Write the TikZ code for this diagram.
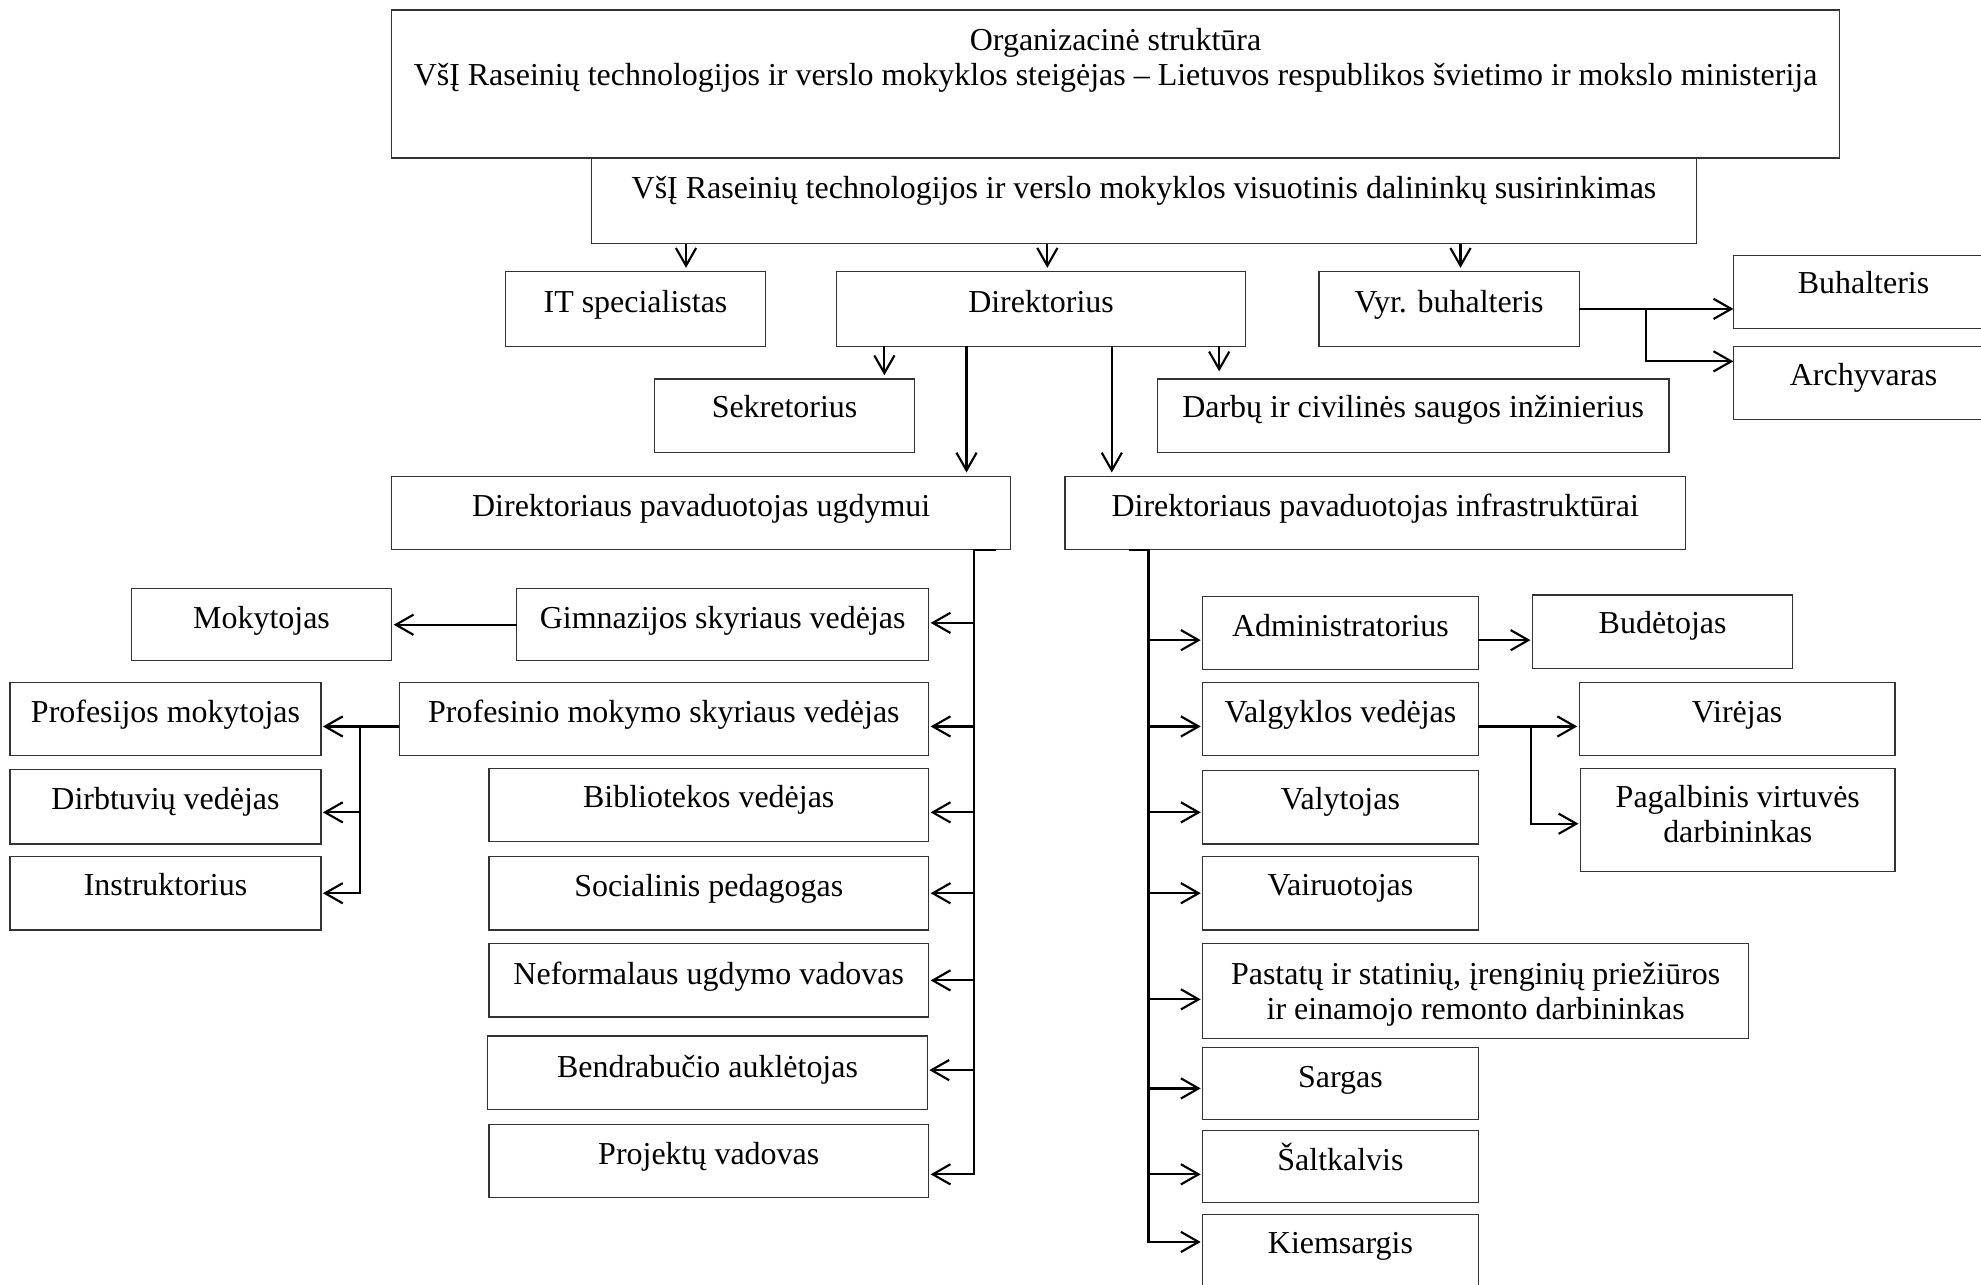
\documentclass[tikz,border=0pt]{standalone}
\usepackage{fontspec}
\setmainfont{Liberation Serif}
\usetikzlibrary{arrows.meta}
\tikzset{
  box/.style={draw=black!80, line width=0.5pt, inner sep=0pt, outer sep=0pt},
  lbl/.style={inner sep=0pt, outer sep=0pt, font=\fontsize{12.65}{14}\selectfont, align=center},
  conn/.style={line width=0.85pt, black},
  arr/.style={conn, -{Straight Barb[length=7pt, width=8pt]}},
  varr/.style={arr, shorten >=1.5pt},
  harr/.style={arr, shorten >=0.8pt}
}
\newcommand\obox[7]{%
  \node[box, minimum width={(#4-#2)*0.5pt}, minimum height={(#5-#3)*0.5pt}] (#1) at ({(#2+#4)/2},{(#3+#5)/2}) {};
  \node[lbl, anchor=base] (#1-t) at ({(#2+#4)/2},{#6+7.5}) {#7};}
\newcommand\oboxii[7]{%
  \node[box, minimum width={(#4-#2)*0.5pt}, minimum height={(#5-#3)*0.5pt}] (#1) at ({(#2+#4)/2},{(#3+#5)/2}) {};
  \node[lbl, anchor=north] (#1-t) at ({(#2+#4)/2},{#6-9.5}) {#7};}
\begin{document}
\begin{tikzpicture}[x=0.5pt, y=-0.5pt]
\useasboundingbox (0,0) rectangle (1568,1017);
% boxes
\oboxii{top}{310}{8}{1456}{125}{32}{Organizacinė struktūra\\VšĮ Raseinių technologijos ir verslo mokyklos steigėjas – Lietuvos respublikos švietimo ir mokslo ministerija}
\obox{sub}{468}{125}{1343}{193}{150}{VšĮ Raseinių technologijos ir verslo mokyklos visuotinis dalininkų susirinkimas}
\obox{it}{400}{215}{606}{274}{240}{IT specialistas}
\obox{dir}{662}{215}{986}{274}{240}{Direktorius}
\obox{vyr}{1044}{215}{1250}{274}{240}{Vyr. buhalteris}
\obox{buh}{1372}{202}{1578}{260}{225}{Buhalteris}
\obox{arch}{1372}{274}{1578}{332}{298}{Archyvaras}
\obox{sek}{518}{300}{724}{358}{323}{Sekretorius}
\obox{darb}{916}{300}{1321}{358}{323}{Darbų ir civilinės saugos inžinierius}
\obox{pug}{310}{377}{800}{435}{401}{Direktoriaus pavaduotojas ugdymui}
\obox{pinf}{843}{377}{1334}{435}{401}{Direktoriaus pavaduotojas infrastruktūrai}
\obox{gim}{409}{466}{735}{523}{490}{Gimnazijos skyriaus vedėjas}
\obox{prof}{316}{540}{735}{598}{564}{Profesinio mokymo skyriaus vedėjas}
\obox{bib}{387}{608}{735}{666}{632}{Bibliotekos vedėjas}
\obox{soc}{387}{678}{735}{736}{702}{Socialinis pedagogas}
\obox{nef}{387}{747}{735}{805}{772}{Neformalaus ugdymo vadovas}
\obox{bend}{386}{820}{734}{878}{845}{Bendrabučio auklėtojas}
\obox{proj}{387}{890}{735}{948}{914}{Projektų vadovas}
\obox{mok}{104}{466}{310}{523}{490}{Mokytojas}
\obox{pmok}{8}{540}{254}{598}{564}{Profesijos mokytojas}
\obox{dirb}{8}{609}{254}{668}{633}{Dirbtuvių vedėjas}
\obox{instr}{8}{678}{254}{736}{701}{Instruktorius}
\obox{adm}{952}{472}{1170}{530}{496}{Administratorius}
\obox{bud}{1213}{471}{1419}{529}{494}{Budėtojas}
\obox{valg}{952}{540}{1170}{598}{564}{Valgyklos vedėjas}
\obox{vir}{1250}{540}{1500}{598}{564}{Virėjas}
\oboxii{pag}{1251}{608}{1500}{690}{631}{Pagalbinis virtuvės\\darbininkas}
\obox{valyt}{952}{610}{1170}{668}{633}{Valytojas}
\obox{vair}{952}{678}{1170}{736}{701}{Vairuotojas}
\oboxii{past}{952}{747}{1384}{822}{771}{Pastatų ir statinių, įrenginių priežiūros\\ir einamojo remonto darbininkas}
\obox{sarg}{952}{829}{1170}{886}{853}{Sargas}
\obox{salt}{952}{895}{1170}{952}{919}{Šaltkalvis}
\obox{kiem}{952}{961}{1170}{1021}{985}{Kiemsargis}
% junction points
\coordinate (vb) at (1303,244.5);
\coordinate (ltv) at (771,435);
\coordinate (plt) at (285,575);
\coordinate (rtv) at (909,435);
\coordinate (vgj) at (1212,575);
% top level arrows
\draw[varr] ([xshift=20pt]it.north |- sub.south) -- ([xshift=20pt]it.north);
\draw[varr] ([xshift=2.5pt]dir.north |- sub.south) -- ([xshift=2.5pt]dir.north);
\draw[varr] ([xshift=4.5pt]vyr.north |- sub.south) -- ([xshift=4.5pt]vyr.north);
\draw[varr] ([xshift=39.5pt]sek.north |- dir.south) -- ([xshift=39.5pt]sek.north);
\draw[varr, shorten >=3pt] ([xshift=-76.75pt]darb.north |- dir.south) -- ([xshift=-76.75pt]darb.north);
\draw[varr] ([xshift=105pt]pug.north |- dir.south) -- ([xshift=105pt]pug.north);
\draw[varr] ([xshift=-104.25pt]pinf.north |- dir.south) -- ([xshift=-104.25pt]pinf.north);
% accountant
\draw[arr] (vyr.east) -- (vyr.east -| buh.west);
\draw[arr] (vb) |- ([yshift=8.5pt]arch.west);
% left tree
\draw[harr] ([xshift=116.5pt]pug.south) -- (ltv) |- ([yshift=-5.25pt]proj.east);
\draw[harr] ([yshift=0.75pt]gim.east -| ltv) -- ([yshift=0.75pt]gim.east);
\draw[harr] ([yshift=-3pt]prof.east -| ltv) -- ([yshift=-3pt]prof.east);
\draw[harr] ([yshift=-3pt]bib.east -| ltv) -- ([yshift=-3pt]bib.east);
\draw[harr] (soc.east -| ltv) -- (soc.east);
\draw[harr] (nef.east -| ltv) -- (nef.east);
\draw[harr] ([yshift=1pt]bend.east -| ltv) -- ([yshift=1pt]bend.east);
\draw[harr] (gim.west) -- (gim.west -| mok.east);
\draw[harr] ([yshift=-3pt]prof.west) -- ([yshift=-3pt]pmok.east);
\draw[harr] (plt) |- (instr.east);
\draw[harr] ([yshift=-2.25pt]dirb.east -| plt) -- ([yshift=-2.25pt]dirb.east);
% right tree
\draw[harr] ([xshift=-97.25pt]pinf.south) -- (rtv) |- ([yshift=4pt]kiem.west);
\draw[harr] ([yshift=-2.85pt]adm.west -| rtv) -- ([yshift=-2.85pt]adm.west);
\draw[harr] ([yshift=-3pt]valg.west -| rtv) -- ([yshift=-3pt]valg.west);
\draw[harr] ([yshift=-2pt]valyt.west -| rtv) -- ([yshift=-2pt]valyt.west);
\draw[harr] (vair.west -| rtv) -- (vair.west);
\draw[harr] ([yshift=-3.25pt]past.west -| rtv) -- ([yshift=-3.25pt]past.west);
\draw[harr] ([yshift=-2pt]sarg.west -| rtv) -- ([yshift=-2pt]sarg.west);
\draw[harr] ([yshift=-3pt]salt.west -| rtv) -- ([yshift=-3pt]salt.west);
\draw[harr] ([yshift=-2.85pt]adm.east) -- ([yshift=-2.85pt]adm.east -| bud.west);
\draw[harr] ([yshift=-3pt]valg.east) -- ([yshift=-3pt]valg.east -| vir.west);
\draw[harr] (vgj) |- ([yshift=-1.5pt]pag.west);
\end{tikzpicture}
\end{document}
